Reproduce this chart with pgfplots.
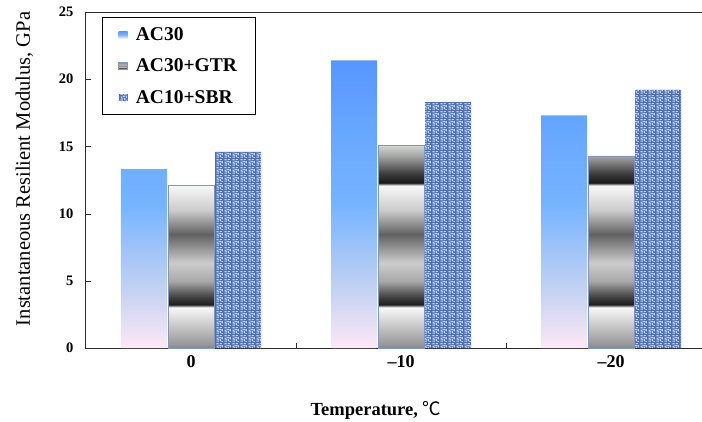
\documentclass[border=0pt]{standalone}
\usepackage{fontspec}
\setmainfont{Liberation Serif}
\newfontfamily\cjk{Noto Sans CJK SC}
\usepackage{pgfplots}
\pgfplotsset{compat=1.18}
\usetikzlibrary{patterns}

\definecolor{acTop}{RGB}{86,150,255}
\definecolor{acMid}{RGB}{118,180,255}
\definecolor{acLow}{RGB}{196,210,242}
\definecolor{acBot}{RGB}{253,232,246}
\definecolor{sbrBase}{RGB}{78,110,176}
\definecolor{sbrLight}{RGB}{182,206,246}
\definecolor{gtrEdge}{RGB}{130,150,190}
\definecolor{axisGray}{RGB}{45,45,45}

% Shadings: the part of the path maps to 25bp..75bp of the 100bp shading
\pgfdeclareverticalshading{acthirty}{100bp}{%
  color(0bp)=(acBot); color(25bp)=(acBot); color(35bp)=(acLow);
  color(50bp)=(acMid); color(62bp)=(acMid!60!acTop); color(75bp)=(acTop); color(100bp)=(acTop)}
\pgfdeclareverticalshading{metal}{100bp}{%
  rgb(0bp)=(0.53,0.53,0.53); rgb(25bp)=(0.53,0.53,0.53);
  rgb(26bp)=(0.60,0.60,0.60); rgb(35bp)=(0.97,0.97,0.97);
  rgb(35.7bp)=(0.12,0.12,0.12); rgb(37.5bp)=(0.25,0.25,0.25);
  rgb(41.5bp)=(0.66,0.66,0.66); rgb(46bp)=(0.80,0.80,0.80);
  rgb(53bp)=(0.38,0.38,0.38); rgb(59bp)=(0.80,0.80,0.80);
  rgb(65bp)=(0.97,0.97,0.97); rgb(65.7bp)=(0.10,0.10,0.10);
  rgb(68bp)=(0.24,0.24,0.24); rgb(72bp)=(0.62,0.62,0.62);
  rgb(75bp)=(0.84,0.84,0.84); rgb(100bp)=(0.84,0.84,0.84)}

% woven texture for the SBR bars
\pgfdeclarepatternformonly{weave}{\pgfqpoint{0pt}{0pt}}{\pgfqpoint{8pt}{8pt}}{\pgfqpoint{8pt}{8pt}}{%
  \pgfpathrectangle{\pgfqpoint{0.4pt}{0.4pt}}{\pgfqpoint{2.8pt}{1.2pt}}
  \pgfpathrectangle{\pgfqpoint{4.4pt}{0.8pt}}{\pgfqpoint{1.2pt}{2.6pt}}
  \pgfpathrectangle{\pgfqpoint{0.8pt}{2.6pt}}{\pgfqpoint{1.2pt}{2.2pt}}
  \pgfpathrectangle{\pgfqpoint{2.7pt}{4.4pt}}{\pgfqpoint{3pt}{1.2pt}}
  \pgfpathrectangle{\pgfqpoint{6.4pt}{3pt}}{\pgfqpoint{1.2pt}{2.6pt}}
  \pgfpathrectangle{\pgfqpoint{0.4pt}{6.4pt}}{\pgfqpoint{2.6pt}{1.2pt}}
  \pgfpathrectangle{\pgfqpoint{4pt}{6.6pt}}{\pgfqpoint{3pt}{1.2pt}}
  \pgfpathrectangle{\pgfqpoint{6.1pt}{0.2pt}}{\pgfqpoint{1.7pt}{1.2pt}}
  \pgfpathrectangle{\pgfqpoint{2.4pt}{2.2pt}}{\pgfqpoint{1.2pt}{1.4pt}}
  \pgfusepath{fill}}

\begin{document}
\begin{tikzpicture}
\useasboundingbox (0,0) rectangle (702pt,421pt);
\clip (0,0) rectangle (702pt,421pt);
\begin{axis}[
  at={(86pt,73pt)}, anchor=south west,
  scale only axis, width=630pt, height=336pt,
  xmin=-0.5, xmax=2.5, ymin=0, ymax=25,
  ybar=1pt, bar width=46pt,
  axis line style={axisGray, line width=1pt},
  xtick={0,1,2}, xticklabels={0,\textendash10,\textendash20},
  minor xtick={0.5,1.5},
  major x tick style={draw=none},
  minor x tick style={axisGray},
  minor tick length=5pt, major tick length=5pt,
  ytick={0,5,...,25},
  xtick pos=bottom, ytick pos=left,
  tick align=inside,
  y tick style={axisGray},
  /pgf/number format/assume math mode=true,
  yticklabel style={font=\fontsize{14.5}{14.5}\selectfont\bfseries, xshift=-9pt},
  xticklabel style={font=\fontsize{18}{18}\selectfont\bfseries, yshift=-4pt},
  xlabel={Temperature, {\cjk\mdseries ℃}},
  xlabel style={font=\fontsize{18.5}{18.5}\selectfont\bfseries, at={(axis description cs:0.46,-0.185)}, anchor=center},
  ylabel={Instantaneous Resilient Modulus, GPa},
  ylabel style={font=\fontsize{20.5}{20.5}\selectfont, at={(axis description cs:-0.098,0.533)}, anchor=center},
  legend cell align=left,
  legend image code/.code={\path[#1] (0pt,-3.5pt) rectangle (9pt,3.5pt); \path (15pt,0pt);},
  legend style={at={(0,1)}, anchor=north west, xshift=16pt, yshift=-5pt,
    draw=black, line width=0.8pt, inner xsep=16pt, inner ysep=8pt,
    row sep=13pt,
    font=\fontsize{19.5}{19.5}\selectfont\bfseries},
]
\addplot[draw=none, shade, shading=acthirty] coordinates {(0,13.3) (1,21.4) (2,17.3)};
\addplot[draw=gtrEdge, line width=0.5pt, shade, shading=metal] coordinates {(0,12.1) (1,15.1) (2,14.3)};
\addplot[draw=none, fill=sbrBase, postaction={pattern=weave, pattern color=sbrLight}] coordinates {(0,14.6) (1,18.3) (2,19.2)};
\legend{AC30,AC30+GTR,AC10+SBR}
\end{axis}
\end{tikzpicture}
\end{document}
